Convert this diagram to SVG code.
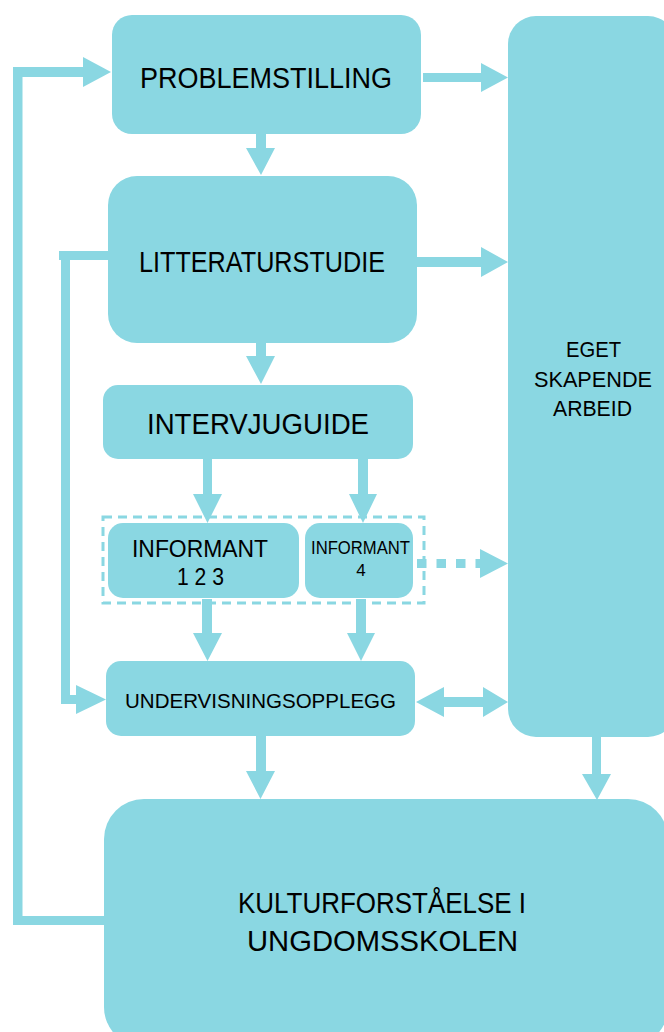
<svg xmlns="http://www.w3.org/2000/svg" width="664" height="1032" viewBox="0 0 664 1032">
<style>
.box{fill:#8AD7E2}
.conn{fill:#8AD7E2}
.dash{fill:none;stroke:#8AD7E2;stroke-width:3;stroke-dasharray:9 6}
.dots{stroke:#8AD7E2;stroke-width:9;stroke-dasharray:9.5 10;fill:none}
text{font-family:"Liberation Sans",Arial,sans-serif;fill:#000}
</style>
<rect width="664" height="1032" fill="#fff"/>
<g id="connectors">
  <!-- big feedback loop -->
  <rect class="conn" x="13" y="67" width="9.5" height="858"/>
  <rect class="conn" x="13" y="67" width="70" height="10"/>
  <polygon class="conn" points="83,57 111,72 83,87"/>
  <rect class="conn" x="13" y="916" width="92" height="9"/>
  <!-- litteratur feedback -->
  <rect class="conn" x="59" y="251" width="50" height="9"/>
  <rect class="conn" x="61" y="251" width="9" height="453"/>
  <rect class="conn" x="61" y="695" width="16" height="9"/>
  <polygon class="conn" points="76,685 106,699.5 76,714"/>
  <!-- down arrows -->
  <polygon class="conn" points="256,134 266,134 266,148 275,148 261,175 246,148 256,148"/>
  <polygon class="conn" points="256,342 266,342 266,356 275,356 261,384 246,356 256,356"/>
  <polygon class="conn" points="203,459 212,459 212,494 222,494 207.5,523 193,494 203,494"/>
  <polygon class="conn" points="358,459 368,459 368,494 377,494 363,523 349,494 358,494"/>
  <polygon class="conn" points="202,599 212,599 212,633 222,633 207.5,661 193,633 202,633"/>
  <polygon class="conn" points="356,599 366,599 366,633 375,633 361,661 347,633 356,633"/>
  <polygon class="conn" points="256,736 266,736 266,771 275,771 260.5,799 246,771 256,771"/>
  <polygon class="conn" points="592,737 601,737 601,774 611,774 597,800 582,774 592,774"/>
  <!-- right arrows -->
  <polygon class="conn" points="423,73 481,73 481,63 508,77.5 481,92 481,82 423,82"/>
  <polygon class="conn" points="417,257 481,257 481,247 508,262 481,277 481,267 417,267"/>
  <line class="dots" x1="417" y1="563.5" x2="480" y2="563.5"/>
  <polygon class="conn" points="480,549 508,563.5 480,578"/>
  <polygon class="conn" points="416,702 444,687 444,697 483,697 483,687 508,702 483,717 483,707 444,707 444,717"/>
</g>
<g id="eget">
  <rect class="box" x="508" y="16" width="168" height="721" rx="28" ry="28"/>
  <text x="566" y="357" font-size="22" textLength="55" lengthAdjust="spacingAndGlyphs">EGET</text>
  <text x="534" y="387" font-size="22" textLength="118" lengthAdjust="spacingAndGlyphs">SKAPENDE</text>
  <text x="553" y="416" font-size="22" textLength="79" lengthAdjust="spacingAndGlyphs">ARBEID</text>
</g>
<g id="problemstilling">
  <rect class="box" x="112" y="15" width="309" height="119" rx="20" ry="20"/>
  <text x="140" y="88" font-size="29" textLength="252" lengthAdjust="spacingAndGlyphs">PROBLEMSTILLING</text>
</g>
<g id="litteraturstudie">
  <rect class="box" x="108" y="176" width="309" height="167" rx="29" ry="29"/>
  <text x="139" y="272" font-size="29" textLength="246" lengthAdjust="spacingAndGlyphs">LITTERATURSTUDIE</text>
</g>
<g id="intervjuguide">
  <rect class="box" x="103" y="385" width="310" height="74" rx="15" ry="15"/>
  <text x="147" y="434" font-size="29" textLength="222" lengthAdjust="spacingAndGlyphs">INTERVJUGUIDE</text>
</g>
<g id="informantgruppe">
  <rect class="dash" x="103" y="517" width="321" height="86"/>
</g>
<g id="informant123">
  <rect class="box" x="108" y="523" width="191" height="75" rx="15" ry="15"/>
  <text x="132" y="557" font-size="24" textLength="136" lengthAdjust="spacingAndGlyphs">INFORMANT</text>
  <text x="177" y="585" font-size="24" textLength="47" lengthAdjust="spacingAndGlyphs">1 2 3</text>
</g>
<g id="informant4">
  <rect class="box" x="305" y="523" width="108" height="75" rx="15" ry="15"/>
  <text x="311" y="554" font-size="18" textLength="99" lengthAdjust="spacingAndGlyphs">INFORMANT</text>
  <text x="361" y="576" font-size="17" text-anchor="middle">4</text>
</g>
<g id="undervisningsopplegg">
  <rect class="box" x="106" y="661" width="309" height="75" rx="15" ry="15"/>
  <text x="125" y="708" font-size="21" textLength="271" lengthAdjust="spacingAndGlyphs">UNDERVISNINGSOPPLEGG</text>
</g>
<g id="kulturforstaelse">
  <rect class="box" x="104" y="799" width="564" height="248" rx="40" ry="40"/>
  <text x="238" y="913" font-size="29" textLength="288" lengthAdjust="spacingAndGlyphs">KULTURFORSTÅELSE I</text>
  <text x="247" y="951" font-size="29" textLength="271" lengthAdjust="spacingAndGlyphs">UNGDOMSSKOLEN</text>
</g>
</svg>
